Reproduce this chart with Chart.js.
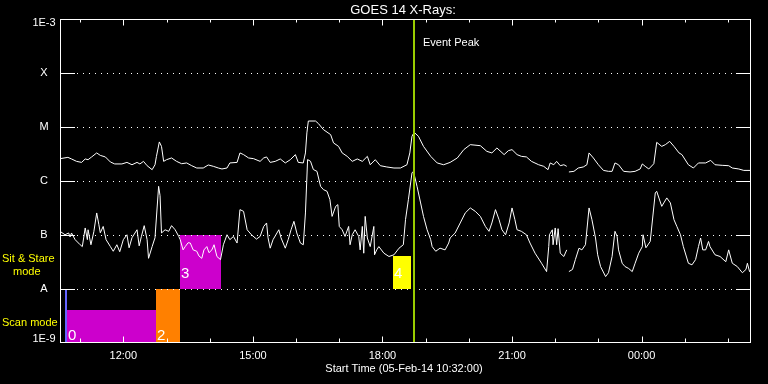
<!DOCTYPE html>
<html><head><meta charset="utf-8">
<script src="https://cdn.jsdelivr.net/npm/chart.js@4/dist/chart.umd.min.js"></script>
<style>html,body{margin:0;padding:0;background:#000;}#wrap{width:768px;height:384px;}</style>
</head><body><div id="wrap"><canvas id="c" width="768" height="384"></canvas></div>
<script>
// Minutes since start (05-Feb-14 10:32:00)
const longT = [0,11,16,23,30,35,39,44,51,56,63,70,76,86,93,100,107,111,116,121,128,132,134,138,141,144,148,155,162,169,176,183,190,199,206,213,220,225,232,236,246,250,255,262,269,278,283,287,292,299,306,313,320,327,331,338,341,343,345,355,359,366,376,380,387,392,399,406,413,420,427,431,438,445,454,464,473,482,486,489,492,498,505,515,524,533,542,552,561,570,584,593,600,607,617,623,628,635,641,648,655,665,672,678,681,686,690,695,700,704,706,707,714,720,727,732,735,741,748,755,762,767,771,776,783,792,799,806,809,813,818,825,829,836,841,847,853,860,864,873,880,887,897,904,910,920,929,934,943,950,959];
const longFlux = [2.59e-6,2.74e-6,2.56e-6,2.31e-6,2.21e-6,2.56e-6,2.48e-6,2.79e-6,3.31e-6,2.98e-6,2.79e-6,2.25e-6,2.07e-6,2.07e-6,2.21e-6,2.0e-6,2.21e-6,2.07e-6,2.31e-6,1.92e-6,1.62e-6,2.0e-6,2.86e-6,5.29e-6,4.38e-6,2.31e-6,2.48e-6,2.67e-6,2.31e-6,2.09e-6,2.16e-6,1.92e-6,1.74e-6,1.74e-6,1.98e-6,1.87e-6,1.74e-6,1.67e-6,1.74e-6,2.16e-6,2.21e-6,3.31e-6,3.08e-6,2.67e-6,2.59e-6,2.31e-6,2.67e-6,2.79e-6,2.21e-6,2.31e-6,2.56e-6,2.16e-6,2.48e-6,3.08e-6,2.21e-6,2.16e-6,3.31e-6,7.77e-6,1.29e-5,1.29e-5,1.16e-5,8.94e-6,7.22e-6,5.07e-6,4.38e-6,3.31e-6,2.86e-6,2.31e-6,2.56e-6,2.31e-6,2.86e-6,2.0e-6,2.48e-6,1.92e-6,1.82e-6,1.74e-6,1.74e-6,2.0e-6,3.31e-6,6.72e-6,7.97e-6,6.72e-6,4.38e-6,2.86e-6,2.16e-6,2.0e-6,2.21e-6,2.67e-6,3.81e-6,4.71e-6,4.51e-6,3.54e-6,3.31e-6,4.09e-6,3.08e-6,3.65e-6,3.81e-6,3.08e-6,2.86e-6,2.79e-6,2.31e-6,2.0e-6,1.87e-6,1.62e-6,2.16e-6,2.0e-6,2.31e-6,1.92e-6,2.0e-6,1.87e-6,null,1.47e-6,1.51e-6,1.74e-6,1.82e-6,2.0e-6,3.31e-6,2.67e-6,2.0e-6,1.57e-6,1.51e-6,1.51e-6,2.16e-6,2.0e-6,1.51e-6,1.47e-6,1.51e-6,1.67e-6,2.07e-6,1.87e-6,1.67e-6,2.09e-6,5.20e-6,4.38e-6,4.71e-6,5.42e-6,4.38e-6,3.31e-6,3.08e-6,2.0e-6,1.74e-6,2.16e-6,2.16e-6,2.41e-6,2.0e-6,1.95e-6,1.92e-6,1.74e-6,1.67e-6,1.57e-6,1.57e-6];
const shortT = [0,7,12,14,16,21,28,31,35,38,39,43,47,51,54,56,60,64,70,74,79,83,88,93,96,100,107,110,113,117,121,123,128,132,137,139,141,146,151,155,160,165,167,171,174,178,181,185,190,193,197,200,204,207,211,214,218,223,227,232,236,241,246,250,255,260,266,273,278,283,287,289,292,296,304,307,313,317,321,325,329,334,338,341,344,348,352,357,362,366,371,375,378,383,386,388,392,396,401,403,406,410,415,417,420,422,424,427,431,436,437,440,443,450,457,464,471,477,480,484,489,491,496,501,505,510,515,517,522,528,535,540,542,549,556,563,570,577,584,591,596,600,605,610,614,619,624,628,632,635,641,648,653,660,669,676,679,680,684,685,688,690,692,695,700,704,706,707,712,716,721,725,730,735,739,744,747,751,758,762,767,771,774,776,781,785,790,795,799,804,809,810,814,820,827,829,836,843,848,853,857,862,866,873,878,883,887,890,893,897,901,903,910,917,925,929,934,941,948,953,955,958,960];
const shortFlux = [1.17e-7,1.01e-7,1.09e-7,0.92e-7,1.09e-7,0.82e-7,0.66e-7,0.61e-7,1.35e-7,0.82e-7,1.25e-7,0.66e-7,1.15e-7,2.56e-7,1.55e-7,1.10e-7,1.44e-7,0.82e-7,0.61e-7,0.50e-7,0.66e-7,0.49e-7,0.82e-7,1.01e-7,0.58e-7,0.89e-7,1.25e-7,0.63e-7,0.93e-7,1.49e-7,0.82e-7,0.37e-7,0.61e-7,0.89e-7,7.97e-7,5.36e-7,1.09e-7,1.25e-7,1.17e-7,1.49e-7,1.25e-7,0.94e-7,0.82e-7,0.53e-7,0.61e-7,0.72e-7,0.71e-7,0.53e-7,0.50e-7,0.41e-7,0.37e-7,0.53e-7,0.61e-7,0.47e-7,0.53e-7,0.66e-7,0.40e-7,0.35e-7,0.66e-7,1.01e-7,0.82e-7,0.94e-7,0.71e-7,2.95e-7,2.74e-7,1.25e-7,1.01e-7,0.84e-7,0.94e-7,1.44e-7,1.67e-7,0.89e-7,0.57e-7,0.82e-7,1.25e-7,0.89e-7,0.57e-7,0.82e-7,1.25e-7,1.79e-7,1.09e-7,0.71e-7,0.66e-7,2.56e-7,2.49e-6,2.32e-6,1.63e-6,1.51e-6,7.97e-7,6.92e-7,6.44e-7,4.51e-7,2.21e-7,3.39e-7,3.65e-7,1.44e-7,1.25e-7,0.94e-7,1.44e-7,0.66e-7,1.01e-7,1.25e-7,0.94e-7,0.53e-7,1.44e-7,0.46e-7,2.21e-7,0.88e-7,0.61e-7,1.44e-7,0.43e-7,0.53e-7,0.61e-7,0.46e-7,0.40e-7,0.43e-7,0.57e-7,0.66e-7,1.92e-7,4.51e-7,1.41e-6,1.51e-6,7.97e-7,3.92e-7,2.21e-7,1.25e-7,0.82e-7,0.61e-7,0.50e-7,0.57e-7,0.53e-7,0.71e-7,0.88e-7,1.09e-7,1.67e-7,2.56e-7,3.17e-7,2.74e-7,2.21e-7,1.44e-7,1.17e-7,1.67e-7,2.95e-7,1.92e-7,1.25e-7,1.01e-7,1.67e-7,3.17e-7,1.92e-7,1.25e-7,1.17e-7,1.01e-7,0.71e-7,0.46e-7,0.30e-7,0.21e-7,0.61e-7,1.01e-7,1.25e-7,0.66e-7,1.35e-7,0.66e-7,1.31e-7,0.46e-7,0.40e-7,0.53e-7,null,0.21e-7,0.23e-7,0.35e-7,0.57e-7,0.53e-7,0.66e-7,3.17e-7,1.92e-7,0.88e-7,0.43e-7,0.26e-7,0.17e-7,0.20e-7,0.40e-7,1.17e-7,0.94e-7,0.53e-7,0.30e-7,0.26e-7,0.24e-7,0.21e-7,0.30e-7,0.46e-7,0.61e-7,1.01e-7,0.58e-7,0.76e-7,6.01e-7,6.44e-7,3.39e-7,4.86e-7,3.92e-7,1.92e-7,1.44e-7,1.01e-7,0.61e-7,0.30e-7,0.28e-7,0.35e-7,0.61e-7,0.88e-7,0.53e-7,0.53e-7,0.76e-7,0.61e-7,0.43e-7,0.40e-7,0.32e-7,0.53e-7,0.30e-7,0.26e-7,0.20e-7,0.23e-7,0.30e-7,0.21e-7,0.23e-7];

// Observation mode boxes (minutes since start, flux bounds)
const boxStart = [7, 10, 134, 167, 462];
const boxEnd   = [10, 134, 167, 224, 487];
const boxLow   = [1e-9, 1e-9, 1e-9, 1e-8, 1e-8];
const boxHigh  = [1e-8, 4.1e-9, 1e-8, 1e-7, 4.1e-8];
const boxLabels = ['', '0', '2', '3', '4'];
const boxColors = ['#6464ff', '#cc00cc', '#ff8000', '#cc00cc', '#ffff00'];

const eventPeak = 492; // 18:44
const xTickValues = [88, 268, 448, 628, 808];
const xTickLabels = ['12:00', '15:00', '18:00', '21:00', '00:00'];
const xMinorValues = [28, 148, 208, 328, 388, 508, 568, 688, 748, 868, 928];
const yTickValues = [1e-9, 1e-8, 1e-7, 1e-6, 1e-5, 1e-4, 1e-3];
const yTickLabels = ['1E-9', 'A', 'B', 'C', 'M', 'X', '1E-3'];

const toPts = (ts, vs) => ts.map((t, i) => ({x: t, y: vs[i]}));

const FONT = "'Liberation Sans', Arial, sans-serif";

const deco = {
  id: 'deco',
  beforeDraw(chart) {
    const c = chart.ctx;
    c.save(); c.fillStyle = '#000'; c.fillRect(0, 0, chart.width, chart.height); c.restore();
  },
  beforeDatasetsDraw(chart) {
    const c = chart.ctx, xs = chart.scales.x, ys = chart.scales.y, a = chart.chartArea;
    c.save();
    // boxes
    for (let i = 0; i < boxStart.length; i++) {
      const x0 = Math.round(xs.getPixelForValue(boxStart[i]));
      const x1 = Math.round(xs.getPixelForValue(boxEnd[i]));
      const y0 = Math.round(ys.getPixelForValue(boxHigh[i]));
      const y1 = Math.round(ys.getPixelForValue(boxLow[i]));
      c.fillStyle = boxColors[i];
      c.fillRect(x0, y0, x1 - x0, y1 - y0);
      if (boxLabels[i]) {
        c.fillStyle = '#fff';
        c.font = '15px ' + FONT;
        c.textAlign = 'left'; c.textBaseline = 'alphabetic';
        c.fillText(boxLabels[i], x0 + 1, y1 - (y1 > 300 ? 3 : 11));
      }
    }
    // grid lines at decades
    c.strokeStyle = '#fff'; c.lineWidth = 1;
    for (let k = 1; k < yTickValues.length - 1; k++) {
      const y = Math.round(ys.getPixelForValue(yTickValues[k])) + 0.5;
      c.setLineDash([]);
      c.beginPath();
      c.moveTo(a.left, y); c.lineTo(a.left + 15, y);
      c.moveTo(a.right - 15, y); c.lineTo(a.right, y);
      c.stroke();
      c.setLineDash([1, 5]);
      c.beginPath();
      c.moveTo(a.left + 17, y); c.lineTo(a.right - 17, y);
      c.stroke();
    }
    c.restore();
  },
  afterDatasetsDraw(chart) {
    const c = chart.ctx, xs = chart.scales.x, ys = chart.scales.y, a = chart.chartArea;
    c.save();
    // event peak line
    const px = Math.round(xs.getPixelForValue(eventPeak));
    c.fillStyle = '#99cc00';
    c.fillRect(px - 1, a.top, 2, a.bottom - a.top);
    // frame
    c.strokeStyle = '#fff'; c.lineWidth = 1; c.setLineDash([]);
    const L = Math.round(a.left) + 0.5, R = Math.round(a.right) - 0.5, T = Math.round(a.top) + 0.5, B = Math.round(a.bottom) - 0.5;
    c.strokeRect(L, T, R - L, B - T);
    // x ticks
    c.beginPath();
    xTickValues.forEach(v => {
      const x = Math.round(xs.getPixelForValue(v)) + 0.5;
      c.moveTo(x, B); c.lineTo(x, B - 6);
      c.moveTo(x, T); c.lineTo(x, T + 6);
    });
    xMinorValues.forEach(v => {
      const x = Math.round(xs.getPixelForValue(v)) + 0.5;
      c.moveTo(x, B); c.lineTo(x, B - 4);
      c.moveTo(x, T); c.lineTo(x, T + 3);
    });
    c.stroke();
    // labels
    c.fillStyle = '#fff';
    c.font = '11px ' + FONT;
    c.textAlign = 'center'; c.textBaseline = 'middle';
    xTickValues.forEach((v, i) => c.fillText(xTickLabels[i], xs.getPixelForValue(v), 356));
    yTickValues.forEach((v, i) => {
      let y = ys.getPixelForValue(v);
      if (i === 0) y -= 4;
      if (i === yTickValues.length - 1) y += 4;
      c.fillText(yTickLabels[i], 44, y);
    });
    c.fillText('Start Time (05-Feb-14 10:32:00)', 404, 369);
    c.font = '13px ' + FONT;
    c.fillText('GOES 14 X-Rays:', 403, 10);
    c.font = '11px ' + FONT;
    c.textAlign = 'left';
    c.fillText('Event Peak', px + 9, 43);
    c.fillStyle = '#ffff00';
    c.fillText('Sit & Stare', 2, 259);
    c.fillText('mode', 13, 272);
    c.fillText('Scan mode', 2, 323);
    c.restore();
  }
};

new Chart(document.getElementById('c'), {
  type: 'line',
  data: {
    datasets: [
      {label: '1-8 A', data: toPts(longT, longFlux), borderColor: '#ffffff', borderWidth: 1, pointRadius: 0, tension: 0, spanGaps: false},
      {label: '0.5-4 A', data: toPts(shortT, shortFlux), borderColor: '#ffffff', borderWidth: 1, pointRadius: 0, tension: 0, spanGaps: false}
    ]
  },
  options: {
    responsive: false, animation: false, devicePixelRatio: 1,
    layout: {padding: {left: 60, right: 17, top: 19, bottom: 41}},
    scales: {
      x: {type: 'linear', min: 0, max: 960, display: false},
      y: {type: 'logarithmic', min: 1e-9, max: 1e-3, display: false}
    },
    plugins: {legend: {display: false}, tooltip: {enabled: false}, title: {display: false}},
    elements: {line: {borderCapStyle: 'butt'}}
  },
  plugins: [deco]
});
</script></body></html>
